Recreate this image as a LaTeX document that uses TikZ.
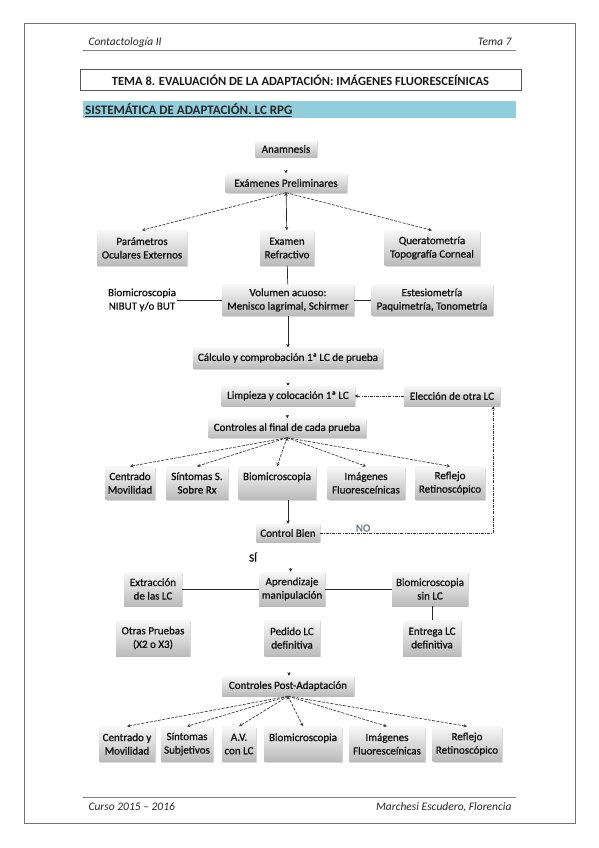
\documentclass[tikz,border=0pt]{standalone}
\usepackage{fontspec}
\setmainfont{Carlito}
\newfontfamily\boxfont{Carlito}[FakeBold=0.8]
\usetikzlibrary{arrows.meta,shadows}
\definecolor{barblue}{HTML}{92CDDC}
\definecolor{nocolor}{RGB}{95,115,140}

\begin{document}
\begin{tikzpicture}[x=1pt,y=-1pt,>={Stealth[length=3.4pt,width=3.4pt]},
                    font=\boxfont\fontsize{11}{13.5}\selectfont,
                    box/.style={align=center,inner sep=1pt,text=black!95,
                      top color=black!3,bottom color=black!27,
                      drop shadow={shadow xshift=1pt,shadow yshift=-1pt,opacity=0.3}},
                    plain/.style={align=center,inner sep=1pt,text=black!95},
                    pagetext/.style={font=\normalfont\itshape\fontsize{11.5}{14}\selectfont,text=black!85},
                    link/.style={draw=black!85,line width=0.7pt},
                    fan/.style={->,draw=black!75,line width=0.7pt,dash pattern=on 3pt off 1.3pt},
                    dashdot/.style={->,draw=black!80,line width=0.6pt,
                      dash pattern=on 3pt off 1.2pt on 0.8pt off 1.2pt}]

  \useasboundingbox (0,0) rectangle (599,848);
  \draw[black!55,line width=1pt] (24,24) rectangle (575,823);

  \node[pagetext,anchor=base west] (course) at (85,46) {Contactología II};
  \node[pagetext,anchor=base east] (topic) at (515,46) {Tema 7};
  \draw[black!50,line width=0.8pt] (83,50) -- (516,50);
  \node[draw=black!65,line width=0.9pt,minimum width=441,minimum height=21,
        font=\normalfont\bfseries\fontsize{12.5}{15}\selectfont,text=black!90] (title) at (300.5,80)
        {TEMA 8. EVALUACIÓN DE LA ADAPTACIÓN: IMÁGENES FLUORESCEÍNICAS};
  \fill[barblue] (83,101) rectangle (516,118);
  \node[anchor=west,font=\normalfont\bfseries\fontsize{13}{15}\selectfont,text=black!85,inner sep=0pt]
        (section) at (85,110) {\underline{SISTEMÁTICA DE ADAPTACIÓN. LC RPG}};

  \node[box,minimum width=61,minimum height=16] (anam) at (286,149) {Anamnesis};
  \node[box,minimum width=121,minimum height=19] (exam) at (286,183) {Exámenes Preliminares};
  \node[box,minimum width=90,minimum height=35] (param) at (142,248) {Parámetros\\Oculares Externos};
  \node[box,minimum width=54,minimum height=35] (refr) at (287,248) {Examen\\Refractivo};
  \node[box,minimum width=95,minimum height=35] (quer) at (432,248) {Queratometría\\Topografía Corneal};
  \node[plain] (nibut) at (142,300) {Biomicroscopia\\NIBUT y/o BUT};
  \node[box,minimum width=132,minimum height=31] (vol) at (288,300) {Volumen acuoso:\\Menisco lagrimal, Schirmer};
  \node[box,minimum width=121,minimum height=31] (estes) at (432,300) {Estesiometría\\Paquimetría, Tonometría};
  \node[box,minimum width=190,minimum height=21] (calc) at (288,358) {Cálculo y comprobación 1ª LC de prueba};
  \node[box,minimum width=133,minimum height=20] (limp) at (288,396) {Limpieza y colocación 1ª LC};
  \node[box,minimum width=96,minimum height=20] (elec) at (452,396) {Elección de otra LC};
  \node[box,minimum width=158,minimum height=19] (ctrl) at (287,428) {Controles al final de cada prueba};

  \node[box,minimum width=49,minimum height=33] (centr) at (130,483) {Centrado\\Movilidad};
  \node[box,minimum width=62,minimum height=33] (sint) at (197,483) {Síntomas S.\\Sobre Rx};
  \node[box,minimum width=77,minimum height=33] (biom) at (277,483) {Biomicroscopia\\~};
  \node[box,minimum width=77,minimum height=33] (imag) at (366,483) {Imágenes\\Fluoresceínicas};
  \node[box,minimum width=70,minimum height=33] (refl) at (450,483) {Reflejo\\Retinoscópico};
  \node[box,minimum width=63,minimum height=18] (cbien) at (288,533) {Control Bien};
  \node[plain] (si) at (253,557) {SÍ};

  \node[box,minimum width=58,minimum height=34] (extr) at (153,589) {Extracción\\de las LC};
  \node[box,minimum width=66,minimum height=34] (apren) at (292,589) {Aprendizaje\\manipulación};
  \node[box,minimum width=76,minimum height=34] (biosin) at (430,589) {Biomicroscopia\\sin LC};
  \node[box,minimum width=74,minimum height=36] (otras) at (153,638) {Otras Pruebas\\(X2 o X3)};
  \node[box,minimum width=55,minimum height=36] (pedido) at (292,638) {Pedido LC\\definitiva};
  \node[box,minimum width=58,minimum height=36] (entrega) at (432,638) {Entrega LC\\definitiva};
  \node[box,minimum width=132,minimum height=20] (post) at (288,686) {Controles Post-Adaptación};

  \node[box,minimum width=56,minimum height=35] (centr2) at (127,744) {Centrado y\\Movilidad};
  \node[box,minimum width=52,minimum height=35] (sint2) at (187,744) {Síntomas\\Subjetivos};
  \node[box,minimum width=34,minimum height=35] (av) at (239,744) {A.V.\\con LC};
  \node[box,minimum width=78,minimum height=35] (biom2) at (303,744) {Biomicroscopia\\~};
  \node[box,minimum width=76,minimum height=35] (imag2) at (387,744) {Imágenes\\Fluoresceínicas};
  \node[box,minimum width=69,minimum height=35] (refl2) at (467,744) {Reflejo\\Retinoscópico};

  \draw[->,link,shorten <=13pt] (anam) -- (exam);
  \path[fan] (exam.south) edge (param.north)
                          edge (quer.north);
  \draw[->,link] (exam) -- (refr);
  \path[link] (refr) edge (vol)
              (nibut) edge (vol)
              (vol) edge (estes);
  \draw[->,link] (vol) -- (calc);
  \draw[->,link,shorten <=14pt] (calc) -- (limp);
  \draw[dashdot] (elec) -- (limp);
  \draw[->,link,shorten <=9pt] (limp) -- (ctrl);

  \path[fan] (ctrl.south) edge (centr.north)
                          edge (sint.north)
                          edge (biom.north)
                          edge (imag.north)
                          edge (refl.north);
  \draw[->,link] (cbien |- biom.south) -- (cbien);
  \draw[dashdot] (cbien.east) -| ([xshift=-7pt]elec.south east)
        node[pos=0.125,above,inner sep=1pt,text=nocolor] {NO};
  \draw[->,link,shorten <=26pt] (cbien) -- (apren);

  \path[link] (extr) edge (apren)
              (apren) edge (biosin)
              (entrega |- biosin.south) edge (entrega);
  \draw[->,link,shorten <=16pt] (pedido) -- (post);

  \path[fan] (post.south) edge (centr2.north)
                          edge (sint2.north)
                          edge (av.north)
                          edge (biom2.north)
                          edge (imag2.north)
                          edge (refl2.north);

  \draw[black!50,line width=0.8pt] (83,797) -- (516,797);
  \node[pagetext,anchor=base west] (year) at (85,810) {Curso 2015 – 2016};
  \node[pagetext,anchor=base east] (author) at (515,810) {Marchesi Escudero, Florencia};
\end{tikzpicture}
\end{document}
